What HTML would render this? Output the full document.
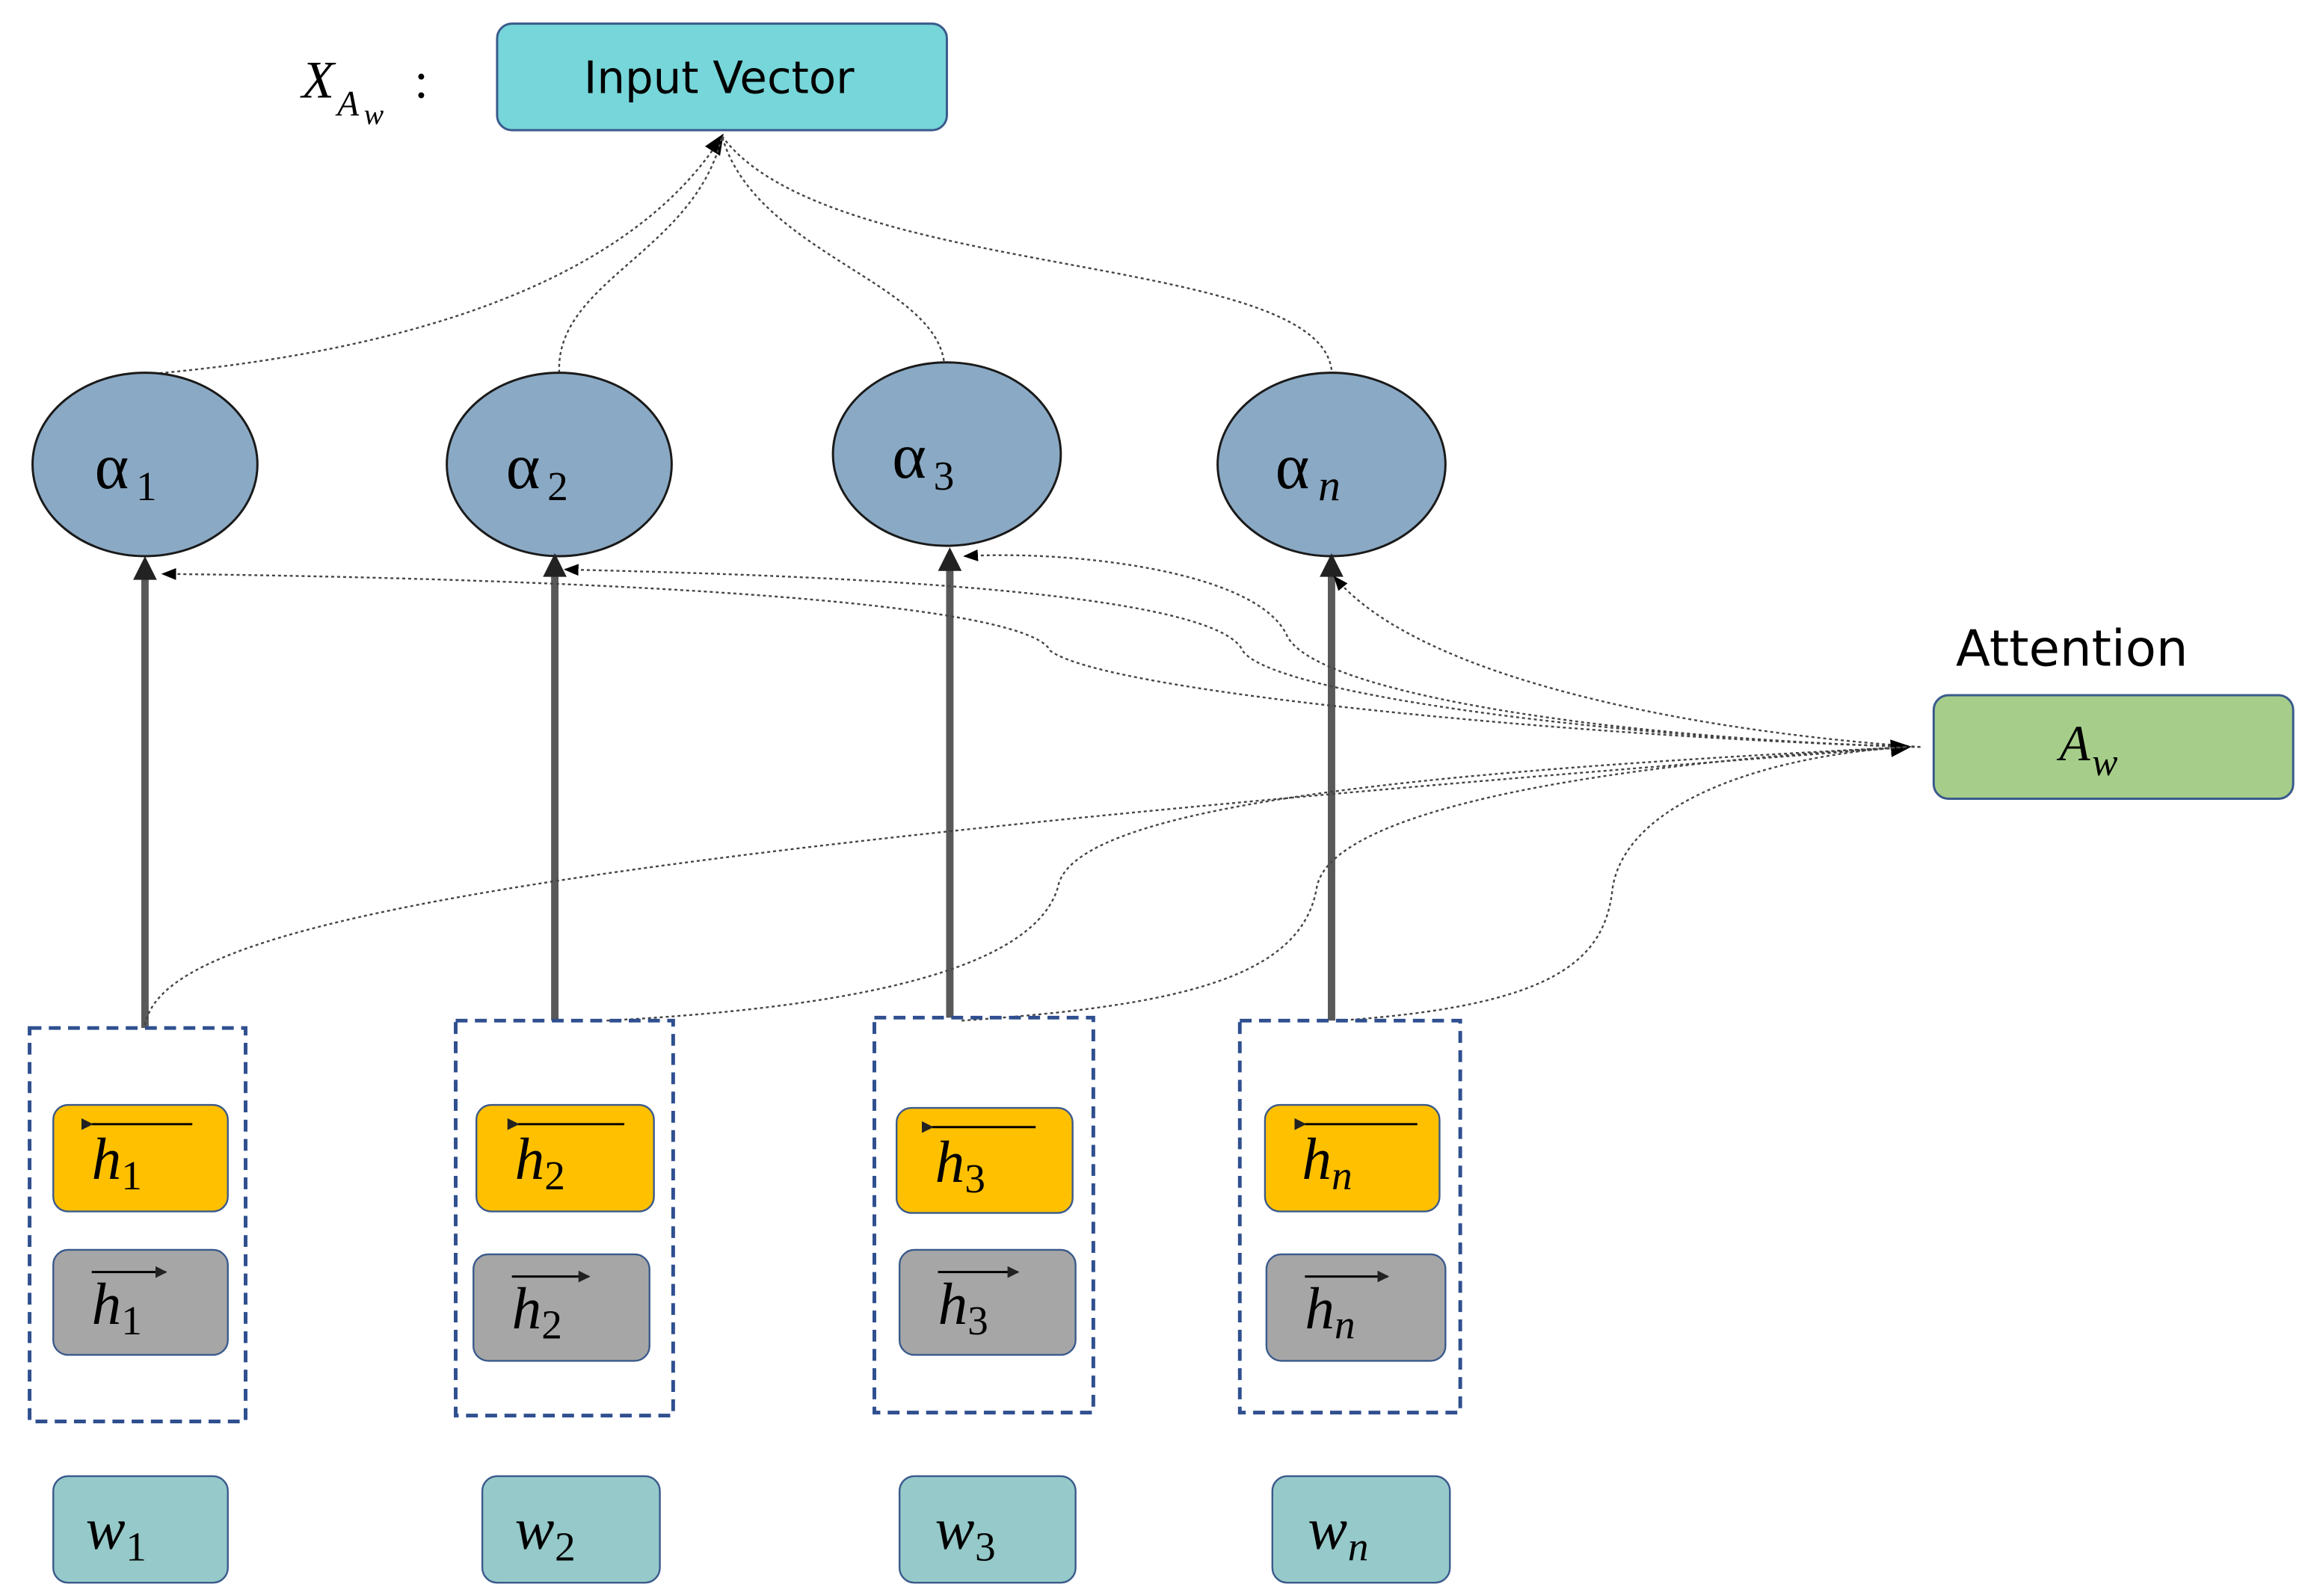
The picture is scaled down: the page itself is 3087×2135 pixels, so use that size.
<!DOCTYPE html>
<html><head><meta charset="utf-8"><style>
html,body{margin:0;padding:0;background:#fff;width:3087px;height:2135px;overflow:hidden}
svg{display:block}
text{font-family:"Liberation Serif","DejaVu Serif",serif}
.sans{font-family:"DejaVu Sans","Liberation Sans",sans-serif}
</style></head><body>
<svg width="3087" height="2135" viewBox="0 0 1560 1079" preserveAspectRatio="none" xmlns="http://www.w3.org/2000/svg">
<defs>
<marker id="ah" markerWidth="10" markerHeight="10" refX="9" refY="5" orient="auto" markerUnits="userSpaceOnUse"><path d="M0,1 L10,5 L0,9 Z" fill="#000"/></marker>
<marker id="ahs" markerWidth="14" markerHeight="12" refX="12" refY="6" orient="auto" markerUnits="userSpaceOnUse"><path d="M0,0 L14,6 L0,12 Z" fill="#000"/></marker>
<marker id="ahb" markerWidth="8" markerHeight="8" refX="7" refY="4" orient="auto" markerUnits="userSpaceOnUse"><path d="M0,0 L8,4 L0,8 Z" fill="#222"/></marker>
</defs>

<text x="204" y="66" font-size="36" font-style="italic">X</text>
<text x="228" y="78" font-size="24" font-style="italic">A</text>
<text x="246" y="84" font-size="20" font-style="italic">w</text>
<text x="280" y="66" font-size="34">:</text>
<rect x="336" y="16" width="304" height="72" rx="10" fill="#76d6d9" stroke="#3a5a8c" stroke-width="1.5"/>
<text class="sans" x="486" y="63" font-size="30" text-anchor="middle">Input Vector</text>

<g fill="none" stroke="#444" stroke-width="1.2" stroke-dasharray="2,2">
<path d="M100,253 C250,240 420,200 488,92" marker-end="url(#ahs)"/>
<path d="M378,252 C375,190 470,170 488,92"/>
<path d="M638,244 C630,190 510,170 488,92"/>
<path d="M900,250 C890,170 560,190 488,92"/>
</g>

<g fill="#8aa9c4" stroke="#1a1a1a" stroke-width="1.5">
<ellipse cx="98" cy="314" rx="76" ry="62"/>
<ellipse cx="378" cy="314" rx="76" ry="62"/>
<ellipse cx="640" cy="307" rx="77" ry="62"/>
<ellipse cx="900" cy="314" rx="77" ry="62"/>
</g>
<g font-size="44">
<text x="64" y="330">α</text><text x="92" y="338" font-size="28">1</text>
<text x="342" y="330">α</text><text x="370" y="338" font-size="28">2</text>
<text x="603" y="323">α</text><text x="631" y="331" font-size="28">3</text>
<text x="862" y="330">α</text><text x="891" y="338" font-size="30" font-style="italic">n</text>
</g>

<g stroke="#595959" stroke-width="5" fill="none">
<line x1="98" y1="695" x2="98" y2="390"/>
<line x1="375" y1="690" x2="375" y2="388"/>
<line x1="642" y1="688" x2="642" y2="384"/>
<line x1="900" y1="690" x2="900" y2="388"/>
</g>
<g fill="#222">
<path d="M90,392 L98,376 L106,392 Z"/>
<path d="M367,390 L375,374 L383,390 Z"/>
<path d="M634,386 L642,370 L650,386 Z"/>
<path d="M892,390 L900,374 L908,390 Z"/>
</g>

<text class="sans" x="1322" y="450" font-size="34">Attention</text>
<rect x="1307" y="470" width="243" height="70" rx="10" fill="#a6ce8a" stroke="#3a5a8c" stroke-width="1.5"/>
<text x="1392" y="514" font-size="34" font-style="italic">A</text>
<text x="1414" y="524" font-size="26" font-style="italic">w</text>

<g fill="none" stroke="#444" stroke-width="1.2" stroke-dasharray="2,2">
<path d="M1298,505 C1100,500 750,470 710,440 C690,400 300,390 110,388" marker-end="url(#ah)"/>
<path d="M1298,505 C1100,500 860,470 840,440 C820,395 500,388 382,385" marker-end="url(#ah)"/>
<path d="M1298,505 C1100,500 890,470 870,430 C850,385 720,372 652,376" marker-end="url(#ah)"/>
<path d="M1298,505 C1150,495 960,460 902,390" marker-end="url(#ah)"/>
<path d="M98,693 C110,630 300,580 1290,505" marker-end="url(#ahs)"/>
<path d="M410,690 C600,680 700,650 715,600 C725,540 1000,520 1290,505"/>
<path d="M650,690 C800,680 880,660 890,600 C900,545 1100,515 1290,505"/>
<path d="M905,690 C1050,680 1085,650 1090,600 C1100,540 1200,510 1290,505"/>
</g>

<g fill="none" stroke="#2f4f8f" stroke-width="2.5" stroke-dasharray="8,5">
<rect x="20" y="695" width="146" height="266"/>
<rect x="308" y="690" width="147" height="267"/>
<rect x="591" y="688" width="148" height="267"/>
<rect x="838" y="690" width="149" height="265"/>
</g>

<g fill="#ffc000" stroke="#3a5a8c" stroke-width="1.2">
<rect x="36" y="747" width="118" height="72" rx="10"/>
<rect x="322" y="747" width="120" height="72" rx="10"/>
<rect x="606" y="749" width="119" height="71" rx="10"/>
<rect x="855" y="747" width="118" height="72" rx="10"/>
</g>
<g fill="#a6a6a6" stroke="#3a5a8c" stroke-width="1.2">
<rect x="36" y="845" width="118" height="71" rx="10"/>
<rect x="320" y="848" width="119" height="72" rx="10"/>
<rect x="608" y="845" width="119" height="71" rx="10"/>
<rect x="856" y="848" width="121" height="72" rx="10"/>
</g>
<g fill="#96c9c9" stroke="#3a5a8c" stroke-width="1.2">
<rect x="36" y="998" width="118" height="72" rx="10"/>
<rect x="326" y="998" width="120" height="72" rx="10"/>
<rect x="608" y="998" width="119" height="72" rx="10"/>
<rect x="860" y="998" width="120" height="72" rx="10"/>
</g>

<g font-size="40" font-style="italic">
<text x="62" y="797">h</text><text x="82" y="804" font-size="28" font-style="normal">1</text>
<text x="348" y="797">h</text><text x="368" y="804" font-size="28" font-style="normal">2</text>
<text x="632" y="799">h</text><text x="652" y="806" font-size="28" font-style="normal">3</text>
<text x="880" y="797">h</text><text x="900" y="804" font-size="28">n</text>
<text x="62" y="895">h</text><text x="82" y="902" font-size="28" font-style="normal">1</text>
<text x="346" y="898">h</text><text x="366" y="905" font-size="28" font-style="normal">2</text>
<text x="634" y="895">h</text><text x="654" y="902" font-size="28" font-style="normal">3</text>
<text x="882" y="898">h</text><text x="902" y="905" font-size="28">n</text>
</g>
<g stroke="#000" stroke-width="1.5">
<line x1="62" y1="760" x2="130" y2="760" marker-start="url(#ahb)"/>
<line x1="350" y1="760" x2="422" y2="760" marker-start="url(#ahb)"/>
<line x1="630" y1="762" x2="700" y2="762" marker-start="url(#ahb)"/>
<line x1="882" y1="760" x2="958" y2="760" marker-start="url(#ahb)"/>
<line x1="62" y1="860" x2="112" y2="860" marker-end="url(#ahb)"/>
<line x1="346" y1="863" x2="398" y2="863" marker-end="url(#ahb)"/>
<line x1="634" y1="860" x2="688" y2="860" marker-end="url(#ahb)"/>
<line x1="882" y1="863" x2="938" y2="863" marker-end="url(#ahb)"/>
</g>

<g font-size="40" font-style="italic">
<text x="58" y="1047">w</text><text x="85" y="1055" font-size="28" font-style="normal">1</text>
<text x="348" y="1047">w</text><text x="375" y="1055" font-size="28" font-style="normal">2</text>
<text x="632" y="1047">w</text><text x="659" y="1055" font-size="28" font-style="normal">3</text>
<text x="884" y="1047">w</text><text x="911" y="1055" font-size="28">n</text>
</g>
</svg>
</body></html>
